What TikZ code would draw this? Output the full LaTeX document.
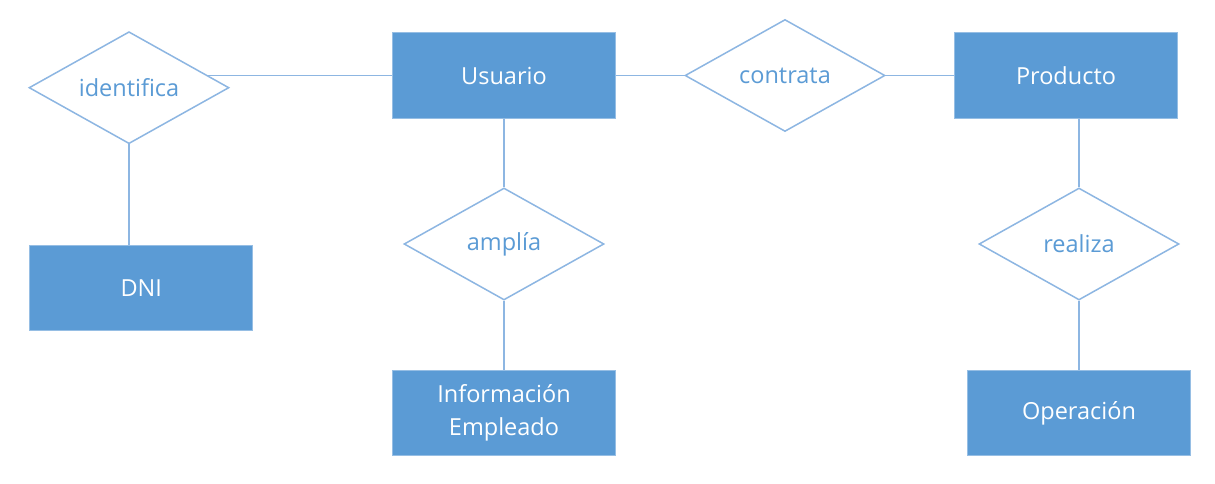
\documentclass[tikz,border=0pt]{standalone}
\usepackage{fontspec}
\setmainfont{Open Sans}
\usetikzlibrary{shapes.geometric,positioning,calc}
\definecolor{entblue}{RGB}{91,155,213}
\definecolor{entedge}{RGB}{150,190,228}
\definecolor{linkblue}{RGB}{141,182,226}
\tikzset{
  entidad/.style={rectangle,fill=entblue,draw=entedge,line width=1pt,minimum width=223pt,minimum height=85.5pt,inner sep=0pt,text=white,align=center,font=\fontsize{23.5}{33}\selectfont},
  relacion/.style={diamond,aspect=1.8,fill=white,draw=linkblue,line width=1.5pt,minimum width=200pt,minimum height=112pt,inner sep=0pt,text=entblue,font=\fontsize{23.5}{33}\selectfont},
  enlace/.style={draw=linkblue,line width=1.5pt}
}
\begin{document}
\begin{tikzpicture}[x=1pt,y=-1pt]
\useasboundingbox(0,0)rectangle(1215,484);
\node[entidad](usuario) at(504,75.5){Usuario};
\node[entidad](producto) at(1066,75.5){Producto};
\node[entidad](dni) at(141.3,288){DNI};
\node[entidad](info) at(504,413){Información\\Empleado};
\node[entidad](operacion) at(1079,413){Operación};
\node[relacion](identifica) at(129,87.7){identifica};
\node[relacion](contrata) at(785,75.5){contrata};
\node[relacion](amplia) at(504,244){amplía};
\node[relacion](realiza) at(1079,244){realiza};
\coordinate(ib) at ($(identifica.north)!0.786!(identifica.east)$);
\draw[enlace](usuario.west-|ib)--(usuario.west);
\draw[enlace](identifica.south)--(identifica.south|-dni.north);
\draw[enlace](usuario.east)--(contrata.west);
\draw[enlace](contrata.east)--(producto.west);
\draw[enlace](usuario.south)--(amplia.north);
\draw[enlace](amplia.south)--(info.north);
\draw[enlace](producto.south-|realiza.north)--(realiza.north);
\draw[enlace](realiza.south)--(operacion.north);
\end{tikzpicture}
\end{document}
